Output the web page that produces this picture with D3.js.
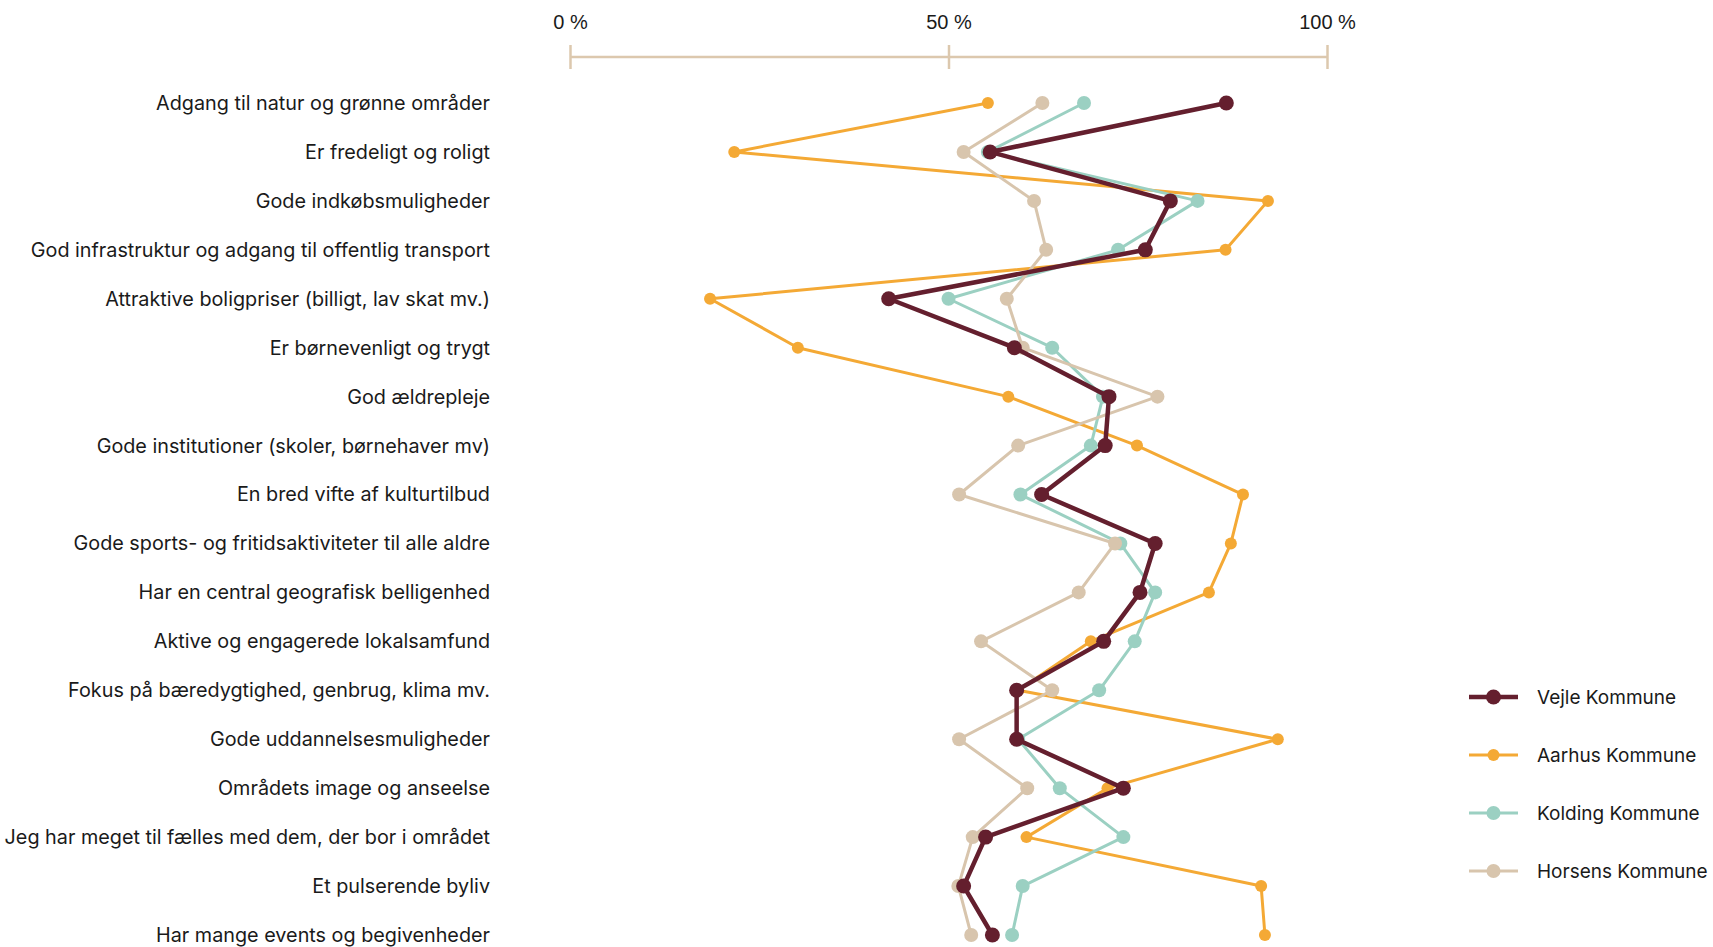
<!DOCTYPE html>
<head>
<meta charset="utf-8">
<title>Kommuner</title>
<script src="https://d3js.org/d3.v7.min.js"></script>
<style>
body { margin: 0; background: #fff; }
svg { font-family: Inter, "Noto Sans", sans-serif; }
.cat { font-size: 19.8px; fill: #1a1a1a; }
.axis text { font-size: 20px; fill: #1a1a1a; }
.axis path, .axis line { stroke: #dcc8ae; stroke-width: 2.5; }
.legend text { font-size: 19px; fill: #1a1a1a; }
</style>
</head>
<body>
<div id="chart"></div>
<script>

var categories = [
  "Adgang til natur og grønne områder",
  "Er fredeligt og roligt",
  "Gode indkøbsmuligheder",
  "God infrastruktur og adgang til offentlig transport",
  "Attraktive boligpriser (billigt, lav skat mv.)",
  "Er børnevenligt og trygt",
  "God ældrepleje",
  "Gode institutioner (skoler, børnehaver mv)",
  "En bred vifte af kulturtilbud",
  "Gode sports- og fritidsaktiviteter til alle aldre",
  "Har en central geografisk belligenhed",
  "Aktive og engagerede lokalsamfund",
  "Fokus på bæredygtighed, genbrug, klima mv.",
  "Gode uddannelsesmuligheder",
  "Områdets image og anseelse",
  "Jeg har meget til fælles med dem, der bor i området",
  "Et pulserende byliv",
  "Har mange events og begivenheder"
];

var vejle   = [86.7, 55.5, 79.3, 76.0, 42.1, 58.7, 71.2, 70.7, 62.3, 77.3, 75.3, 70.5, 59.0, 59.0, 73.1, 54.9, 52.0, 55.8];
var aarhus  = [55.2, 21.7, 92.2, 86.6, 18.5, 30.1, 57.9, 74.9, 88.9, 87.3, 84.4, 68.8, 59.2, 93.5, 71.0, 60.3, 91.3, 91.8];
var kolding = [67.9, 55.2, 82.9, 72.4, 50.0, 63.7, 70.4, 68.8, 59.5, 72.7, 77.3, 74.6, 69.9, 59.2, 64.7, 73.1, 59.8, 58.4];
var horsens = [62.4, 52.0, 61.3, 62.9, 57.7, 59.8, 77.6, 59.2, 51.4, 72.0, 67.2, 54.3, 63.7, 51.4, 60.4, 53.2, 51.3, 53.0];

var tickValues = [0, 50, 100];

var series = [
  { name: "Vejle Kommune",   values: vejle,   color: "#641f2e", width: 4.5, r: 7.5 },
  { name: "Aarhus Kommune",  values: aarhus,  color: "#f4a935", width: 3,   r: 6 },
  { name: "Kolding Kommune", values: kolding, color: "#9bd0c2", width: 3,   r: 7 },
  { name: "Horsens Kommune", values: horsens, color: "#d8c5ad", width: 3,   r: 7 }
];
// bottom to top
var drawOrder = [1, 2, 3, 0];

var width = 1713, height = 947;

var x = d3.scaleLinear().domain([0, 100]).range([570, 1327]);
var y = d3.scalePoint().domain(categories).range([103, 935]);

var svg = d3.select("#chart").append("svg")
  .attr("width", width)
  .attr("height", height);

/* axis on top */
var axis = svg.append("g")
  .attr("class", "axis")
  .attr("transform", "translate(0,57)")
  .call(d3.axisTop(x).tickValues(tickValues).tickSizeOuter(0).tickSize(12)
        .tickFormat(d => d + " %"));
axis.select(".domain").attr("d", `M${x(0)},0H${x(100)}`);
axis.selectAll(".tick line").attr("y1", 12).attr("y2", -12);
axis.selectAll(".tick text").attr("y", -35).attr("dy", "0.35em");

/* category labels */
svg.append("g").selectAll("text")
  .data(categories).enter()
  .append("text")
  .attr("class", "cat")
  .attr("x", 490)
  .attr("y", d => y(d))
  .attr("dy", "0.35em")
  .attr("text-anchor", "end")
  .text(d => d);

var line = d3.line()
  .x(d => x(d.v))
  .y(d => y(d.c));

var groups = svg.append("g").selectAll("g")
  .data(drawOrder.map(i => series[i])).enter()
  .append("g");

groups.append("path")
  .attr("fill", "none")
  .attr("stroke", d => d.color)
  .attr("stroke-width", d => d.width)
  .attr("stroke-linejoin", "round")
  .attr("d", d => line(d.values.map((v, i) => ({ v: v, c: categories[i] }))));

groups.selectAll("circle")
  .data(d => d.values.map((v, i) => ({ v: v, c: categories[i], s: d }))).enter()
  .append("circle")
  .attr("cx", d => x(d.v))
  .attr("cy", d => y(d.c))
  .attr("r", d => d.s.r)
  .attr("fill", d => d.s.color);

/* legend */
var legend = svg.append("g").attr("class", "legend")
  .selectAll("g")
  .data(series).enter()
  .append("g")
  .attr("transform", (d, i) => `translate(1469, ${697 + i * 58})`);

legend.append("line")
  .attr("x1", 0).attr("x2", 49)
  .attr("stroke", d => d.color)
  .attr("stroke-width", d => d.width);

legend.append("circle")
  .attr("cx", 24.5)
  .attr("r", d => d.r)
  .attr("fill", d => d.color);

legend.append("text")
  .attr("x", 68)
  .attr("dy", "0.35em")
  .text(d => d.name);

</script>
</body>
</html>
